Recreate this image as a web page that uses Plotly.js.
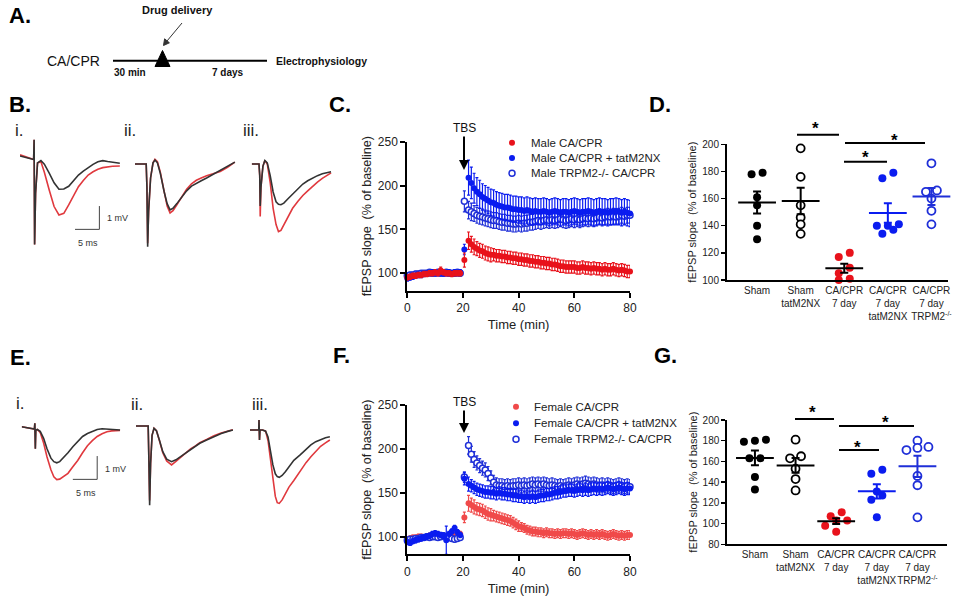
<!DOCTYPE html>
<html><head><meta charset="utf-8">
<script src="https://cdn.plot.ly/plotly-3.0.1.min.js"></script>
<style>html,body{margin:0;padding:0;background:#fff}#chart{width:970px;height:600px}</style>
</head><body><div id="chart"></div>
<script>
// ================= DATA =================
// Time-course (C: male, F: female), minutes
const timeMin = [0,1,2,3,4,5,6,7,8,9,10,11,12,13,14,15,16,17,18,19,
20.5,22,23,24,25,26,27,28,29,30,31,32,33,34,35,36,37,38,39,40,
41,42,43,44,45,46,47,48,49,50,51,52,53,54,55,56,57,58,59,60,
61,62,63,64,65,66,67,68,69,70,71,72,73,74,75,76,77,78,79,80];

const maleCA = [95,96,97,97,98,98,99,99,100,100,101,100,103,101,100,100,99,100,100,100,
115,137,133,130,128,126,125,123,122,121,121,120,120,119,119,118,118,117,117,116,
116,115,115,114,114,113,113,112,112,111,111,110,110,109,108,108,107,107,107,107,
106,106,107,106,106,105,106,105,105,104,105,104,104,105,104,103,104,103,102,102];
const maleCAErr = [3,3,3,3,3,3,3,3,3,3,3,3,4,3,3,3,3,3,3,3,
8,10,9,9,8,8,8,8,8,8,7,7,7,7,7,7,7,7,7,7,
7,7,7,7,7,7,7,7,7,7,7,7,7,7,7,7,7,7,7,7,
7,7,7,7,7,7,7,7,7,7,7,7,7,7,7,7,7,7,7,7];

const maleTat = [94,95,96,97,98,98,99,100,100,101,101,100,101,100,100,101,100,101,100,101,
127,209,203,197,193,190,187,185,183,181,180,178,177,176,175,175,174,173,173,172,
172,171,172,171,170,171,170,170,171,170,169,170,171,170,169,170,170,169,170,171,
170,169,170,170,171,170,169,170,171,170,170,169,170,170,171,170,169,170,169,168];
const maleTatErr = [3,3,3,3,3,3,3,3,3,3,3,3,3,3,3,3,3,3,3,3,
6,20,18,17,16,16,15,15,15,15,15,15,15,15,15,15,15,15,15,15,
15,15,15,15,15,15,15,15,15,15,15,15,15,15,15,15,15,15,15,15,
15,15,15,15,15,15,15,15,15,15,15,15,15,15,15,15,15,15,15,15];

const maleTRPM2 = [97,98,98,99,99,100,100,100,101,100,100,101,100,100,101,100,100,100,101,100,
182,172,170,168,166,165,164,163,162,161,160,160,159,158,158,157,157,156,156,157,
156,157,157,158,158,159,160,159,160,161,160,161,160,161,162,161,160,161,162,161,
162,161,162,163,162,163,162,163,164,163,164,165,164,165,164,165,166,165,166,166];
const maleTRPM2Err = [3,3,3,3,3,3,3,3,3,3,3,3,3,3,3,3,3,3,3,3,
12,10,10,9,9,9,9,9,9,9,9,9,9,9,9,9,9,9,9,9,
9,9,9,9,9,9,9,9,9,9,9,9,9,9,9,9,9,9,9,9,
9,9,9,9,9,9,9,9,9,9,9,9,9,9,9,9,9,9,9,9];

const femaleCA = [97,98,99,99,100,100,99,100,101,100,100,101,100,100,99,100,101,102,103,103,
122,138,136,134,132,131,130,128,126,125,124,123,122,121,120,119,118,116,114,112,
111,110,108,107,106,106,105,105,104,105,104,104,103,104,103,104,104,103,104,103,
102,103,104,103,102,103,102,103,102,103,102,101,102,103,102,101,102,101,102,102];
const femaleCAErr = [3,3,3,3,3,3,3,3,3,3,3,3,3,3,3,3,3,3,3,3,
6,9,8,8,7,7,7,7,7,7,6,6,6,6,6,6,6,6,6,6,
5,5,5,5,5,5,5,5,5,5,5,5,5,5,5,5,5,5,5,5,
5,5,5,5,5,5,5,5,5,5,5,5,5,5,5,5,5,5,5,5];

const femaleTat = [94,93,95,96,97,98,99,100,101,103,104,103,102,101,96,103,106,110,105,102,
166,160,158,156,154,153,152,151,151,150,150,149,150,149,149,148,148,147,147,146,
146,145,146,145,146,145,146,147,147,148,148,149,150,150,151,152,152,153,153,152,
153,154,153,154,153,154,155,154,155,154,155,156,155,154,155,156,155,154,155,155];
const femaleTatErr = [3,3,3,3,3,3,3,3,3,3,3,3,3,3,16,3,3,3,3,3,
7,8,7,7,7,7,7,7,7,7,7,7,7,7,7,7,7,7,7,7,
7,7,7,7,7,7,7,7,7,7,7,7,7,7,7,7,7,7,7,7,
7,7,7,7,7,7,7,7,7,7,7,7,7,7,7,7,7,7,7,7];

const femaleTRPM2 = [96,97,97,98,98,99,99,100,99,100,100,99,100,101,100,99,98,97,98,99,
168,204,194,188,184,181,178,176,172,167,162,159,158,158,157,158,157,158,158,159,
158,159,158,159,160,159,160,159,160,159,158,159,158,157,158,157,158,159,158,159,
160,159,160,161,160,159,160,159,158,159,158,159,158,157,158,159,158,157,158,157];
const femaleTRPM2Err = [3,3,3,3,3,3,3,3,3,3,3,3,3,3,3,3,3,3,3,3,
6,10,9,9,8,8,8,8,8,8,8,8,8,8,8,8,8,8,8,8,
8,8,8,8,8,8,8,8,8,8,8,8,8,8,8,8,8,8,8,8,
8,8,8,8,8,8,8,8,8,8,8,8,8,8,8,8,8,8,8,8];

// Scatter-dot plots (D: male, G: female), fEPSP slope % of baseline
const categoryLabels = ['Sham','Sham<br>tatM2NX','CA/CPR<br>7 day','CA/CPR<br>7 day<br>tatM2NX','CA/CPR<br>7 day<br>TRPM2<sup>-/-</sup>'];
const maleSham = [178,179,161,155,140,130];
const maleShamTat = [197,176,155,146,141,134];
const maleCAday7 = [117,120,109,105,101,100];
const maleTatDay7 = [179,175,141,140,140,137,134];
const maleTRPM2Day7 = [186,166,165,160,151,141];
const femaleSham = [179,181,180,163,163,145,133];
const femaleShamTat = [181,163,165,153,143,132];
const femaleCAday7 = [107,111,103,103,98,92];
const femaleTatDay7 = [148,152,131,127,123,106];
const femaleTRPM2Day7 = [171,180,174,173,146,137,106];

// Example fEPSP traces (ms, mV): black = sham/control, red = CA/CPR
const bi_t = [0,1.5,2.8,2.9,3.0,3.2,3.6,4.3,5,6,7,8,9,10,11,12,13,14,15,16,17,18,19,20.5];
const bi_black = [0.1,0.02,-0.05,0.8,-3.7,-1.5,-0.2,-0.1,-0.25,-0.64,-1.05,-1.33,-1.32,-1.2,-0.98,-0.72,-0.55,-0.39,-0.26,-0.15,-0.1,-0.14,-0.18,-0.21];
const bi_red = [0.15,0.05,-0.05,0.8,-3.7,-1.5,-0.2,-0.15,-0.6,-1.36,-2.07,-2.43,-2.36,-2.0,-1.6,-1.22,-0.95,-0.72,-0.58,-0.47,-0.4,-0.36,-0.34,-0.33];
const bii_t = [0,2.3,2.45,2.6,2.8,3.2,3.7,4.1,4.6,5.2,6.0,6.6,7.2,7.8,8.6,9.6,10.6,11.6,12.6,13.6,14.7,16,17.5,19,20.5];
const bii_black = [0,0,-1.0,-3.55,-2.0,-0.6,0.05,0.17,0.05,-0.4,-1.2,-1.7,-1.97,-1.9,-1.7,-1.4,-1.15,-0.95,-0.82,-0.72,-0.6,-0.45,-0.3,-0.12,0.08];
const bii_red = [0,0,-1.0,-3.4,-2.0,-0.6,0.05,0.2,0.1,-0.35,-1.2,-1.8,-2.1,-2.0,-1.75,-1.4,-1.08,-0.85,-0.7,-0.6,-0.5,-0.42,-0.32,-0.14,0.08];
const biii_t = [0,1.5,1.65,1.75,1.9,2.3,2.7,3.2,3.8,4.4,5.0,5.5,6.0,6.6,7.4,8.4,9.5,10.5,11.5,12.5,13.5,14.5,15.5,16.3];
const biii_black = [0,0,-0.5,-1.8,-1.0,-0.1,0.15,0.05,-0.5,-1.2,-1.62,-1.73,-1.75,-1.68,-1.5,-1.28,-1.05,-0.86,-0.72,-0.6,-0.5,-0.42,-0.36,-0.33];
const biii_red = [0,0,-0.5,-2.25,-1.0,-0.1,0.15,0.0,-0.8,-1.9,-2.6,-2.9,-2.85,-2.6,-2.25,-1.9,-1.6,-1.35,-1.15,-0.95,-0.78,-0.62,-0.48,-0.38];
const ei_t = [0,1.5,2.6,2.7,2.8,2.9,3.2,3.8,4.5,5.2,6.0,6.6,7.2,7.8,8.5,9.5,10.5,11.5,12.5,13.5,14.5,15.5,16.5,17.5,18.5,20.2];
const ei_black = [0,-0.05,-0.1,0.15,-0.95,-0.15,-0.12,-0.2,-0.5,-0.95,-1.35,-1.5,-1.55,-1.5,-1.35,-1.12,-0.86,-0.62,-0.42,-0.29,-0.2,-0.12,-0.09,-0.1,-0.12,-0.14];
const ei_red = [0,-0.05,-0.1,0.15,-0.95,-0.15,-0.12,-0.25,-0.7,-1.3,-1.85,-2.15,-2.27,-2.25,-2.15,-2.0,-1.72,-1.45,-1.12,-0.82,-0.6,-0.42,-0.3,-0.22,-0.18,-0.16];
const eii_t = [0,2.5,2.65,2.8,3.0,3.3,3.7,4.2,4.8,5.5,6.3,7.3,8.2,9.2,10.2,11.2,12.2,13.1,14.5,16,17.5,19,19.9];
const eii_black = [0,0,-1.5,-3.4,-1.6,-0.4,-0.1,-0.2,-0.6,-1.1,-1.42,-1.53,-1.45,-1.3,-1.15,-1.0,-0.86,-0.74,-0.6,-0.45,-0.32,-0.22,-0.17];
const eii_red = [0,0,-1.5,-3.2,-1.6,-0.4,-0.1,-0.2,-0.62,-1.15,-1.5,-1.67,-1.52,-1.33,-1.15,-0.98,-0.85,-0.72,-0.58,-0.42,-0.3,-0.2,-0.16];
const eiii_t = [0,1.8,1.85,1.95,2.05,2.6,3.2,3.7,4.2,4.7,5.2,5.6,6.0,6.6,7.3,8.0,9.0,10.3,11.5,12.5,13.5,14.5,15.5,16.4];
const eiii_black = [0,0,0.43,-0.43,0,0,-0.05,-0.3,-0.9,-1.5,-1.88,-2.0,-2.03,-1.95,-1.78,-1.58,-1.3,-1.07,-0.85,-0.64,-0.5,-0.4,-0.33,-0.29];
const eiii_red = [0,0,0.43,-0.43,0,0,-0.05,-0.45,-1.3,-2.2,-2.85,-3.12,-3.15,-3.0,-2.75,-2.45,-2.17,-1.75,-1.4,-1.15,-0.9,-0.7,-0.55,-0.43];

// ================= FIGURE =================
const W = 970, H = 600;
const px = x => x / W, py = y => 1 - y / H;
const FONT = '"Liberation Sans", Arial, Helvetica, sans-serif';
const RED = '#e8121b', RED_F = '#f04a4a', BLUE = '#0a1cf0', BLUE_O = '#1f2fd8', TR_RED = '#e0393e', TR_BLK = '#333333';
const data = [];
const layout = {
  width: W, height: H, margin: {l: 0, r: 0, t: 0, b: 0},
  paper_bgcolor: '#ffffff', plot_bgcolor: 'rgba(0,0,0,0)', showlegend: false,
  font: {family: FONT, color: '#222'}, shapes: [], annotations: []
};
const sfx = n => (n === 1 ? '' : String(n));

function txt(text, x, y, size, o = {}) {
  layout.annotations.push({
    text: o.bold ? '<b>' + text + '</b>' : text, x: px(x), y: py(y), xref: 'paper', yref: 'paper',
    showarrow: false, xanchor: o.anchor || 'center', yanchor: 'middle',
    font: {family: FONT, size: size, color: o.color || '#111'}
  });
}
function seg(x0, y0, x1, y1, w, c) {
  layout.shapes.push({type: 'line', xref: 'paper', yref: 'paper', x0: px(x0), y0: py(y0), x1: px(x1), y1: py(y1), line: {color: c || '#000', width: w}});
}
function tri(pts, c) {
  layout.shapes.push({type: 'path', xref: 'paper', yref: 'paper',
    path: 'M' + pts.map(p => px(p[0]) + ',' + py(p[1])).join(' L') + ' Z', fillcolor: c, line: {color: c, width: 1}});
}

// ---------- time-course panels ----------
function timeAxes(n, left, right, top, bottom) {
  layout['xaxis' + sfx(n)] = {
    domain: [px(left), px(right)], range: [0, 80], anchor: 'y' + sfx(n), automargin: false,
    showline: true, linecolor: '#000', linewidth: 2, ticks: 'outside', ticklen: 5, tickwidth: 2, tickcolor: '#000',
    tickvals: [0, 20, 40, 60, 80], tickfont: {size: 12, color: '#222'}, showgrid: false, zeroline: false,
    title: {text: 'Time (min)', font: {size: 13, color: '#222'}, standoff: 6}
  };
  layout['yaxis' + sfx(n)] = {
    domain: [py(bottom), py(top)], range: [80, 250], anchor: 'x' + sfx(n), automargin: false,
    showline: true, linecolor: '#000', linewidth: 2, ticks: 'outside', ticklen: 5, tickwidth: 2, tickcolor: '#000',
    tickvals: [100, 150, 200, 250], tickfont: {size: 12, color: '#222'}, showgrid: false, zeroline: false,
    title: {text: 'fEPSP slope  (% of baseline)', font: {size: 12.5, color: '#222'}, standoff: 3}
  };
}
function course(n, y, err, color, open, name) {
  data.push({
    type: 'scatter', mode: 'markers', name: name, x: timeMin, y: y, xaxis: 'x' + sfx(n), yaxis: 'y' + sfx(n), cliponaxis: false,
    marker: {size: 6, symbol: 'circle', color: open ? '#ffffff' : color, line: {color: color, width: open ? 1.5 : 0}},
    error_y: {type: 'data', array: err, color: color, thickness: 1.2, width: 1.5}
  });
}
timeAxes(1, 407.3, 630, 141.7, 290.7);
timeAxes(3, 407.3, 630, 405, 554.3);
course(1, maleTRPM2, maleTRPM2Err, BLUE_O, true, 'Male TRPM2-/- CA/CPR');
course(1, maleTat, maleTatErr, BLUE, false, 'Male CA/CPR + tatM2NX');
course(1, maleCA, maleCAErr, RED, false, 'Male CA/CPR');
course(3, femaleCA, femaleCAErr, RED_F, false, 'Female CA/CPR');
course(3, femaleTRPM2, femaleTRPM2Err, BLUE_O, true, 'Female TRPM2-/- CA/CPR');
course(3, femaleTat, femaleTatErr, BLUE, false, 'Female CA/CPR + tatM2NX');

function legendRows(x, text0, ys, labels, colors, opens) {
  labels.forEach((lab, i) => {
    const r = 3;
    layout.shapes.push({type: 'circle', xref: 'paper', yref: 'paper', x0: px(x - r), x1: px(x + r), y0: py(ys[i] + r), y1: py(ys[i] - r),
      fillcolor: opens[i] ? '#ffffff' : colors[i], line: {color: colors[i], width: opens[i] ? 1.5 : 0}});
    txt(lab, text0, ys[i], 11.5, {anchor: 'left', color: '#222'});
  });
}
legendRows(512, 529, [142.7, 158, 173.3], ['Male CA/CPR', 'Male CA/CPR + tatM2NX', 'Male TRPM2-/- CA/CPR'], [RED, BLUE, BLUE_O], [false, false, true]);
legendRows(516, 532, [406.7, 423.3, 439.3], ['Female CA/CPR', 'Female CA/CPR + tatM2NX', 'Female TRPM2-/- CA/CPR'], [RED_F, BLUE, BLUE_O], [false, false, true]);

function tbs(xTip, yTip, yText) {
  layout.annotations.push({text: 'TBS', x: px(xTip), y: py(yTip), xref: 'paper', yref: 'paper', showarrow: true,
    ax: 0, ay: yText - yTip, arrowhead: 2, arrowsize: 1, arrowwidth: 2, arrowcolor: '#000',
    font: {family: FONT, size: 12, color: '#111'}});
}
tbs(464, 170, 128);
tbs(464, 433, 402);

// ---------- scatter-dot panels ----------
function dotAxes(n, left, right, top, bottom, xr, yr, ytv) {
  layout['xaxis' + sfx(n)] = {
    domain: [px(left), px(right)], range: xr, anchor: 'y' + sfx(n), automargin: false,
    showline: true, linecolor: '#000', linewidth: 2, ticks: '', tickvals: [0, 1, 2, 3, 4], ticktext: categoryLabels,
    tickangle: 0, tickfont: {size: 10, color: '#222'}, showgrid: false, zeroline: false
  };
  layout['yaxis' + sfx(n)] = {
    domain: [py(bottom), py(top)], range: yr, anchor: 'x' + sfx(n), automargin: false,
    showline: true, linecolor: '#000', linewidth: 2, ticks: 'outside', ticklen: 4, tickwidth: 1.5, tickcolor: '#000',
    tickvals: ytv, tickfont: {size: 10, color: '#222'}, showgrid: false, zeroline: false,
    title: {text: 'fEPSP slope  (% of baseline)', font: {size: 11, color: '#222'}, standoff: 3}
  };
}
const mean = a => a.reduce((s, v) => s + v, 0) / a.length;
const sem = a => { const m = mean(a); return Math.sqrt(a.reduce((s, v) => s + (v - m) * (v - m), 0) / (a.length - 1)) / Math.sqrt(a.length); };
function swarm(vals, pxPerUnit, pxPerCat) {
  const order = vals.map((v, i) => i).sort((a, b) => vals[a] - vals[b]);
  const off = new Array(vals.length).fill(0);
  let row = [];
  const flush = () => { row.forEach((idx, k) => { off[idx] = (k - (row.length - 1) / 2) * 11 / pxPerCat; }); row = []; };
  order.forEach(i => {
    if (row.length && (vals[i] - vals[row[0]]) * pxPerUnit >= 6) flush();
    row.push(i);
  });
  flush();
  return off;
}
function dotGroup(n, cat, vals, color, open, meanColor, pxPerUnit, pxPerCat) {
  const off = swarm(vals, pxPerUnit, pxPerCat);
  data.push({type: 'scatter', mode: 'markers', x: vals.map((v, i) => cat + off[i]), y: vals,
    xaxis: 'x' + sfx(n), yaxis: 'y' + sfx(n), cliponaxis: false,
    marker: {size: 8, color: open ? '#ffffff' : color, line: {color: color, width: open ? 1.8 : 0}}});
  data.push({type: 'scatter', mode: 'markers', x: [cat], y: [mean(vals)], xaxis: 'x' + sfx(n), yaxis: 'y' + sfx(n), cliponaxis: false,
    marker: {symbol: 'line-ew', size: 27, color: meanColor, line: {color: meanColor, width: 2}},
    error_y: {type: 'data', array: [sem(vals)], color: meanColor, thickness: 2, width: 4}});
}
// D (male)
dotAxes(2, 727, 948, 144.3, 280, [-0.69, 4.38], [100, 200], [100, 120, 140, 160, 180, 200]);
const dU = 135.7 / 100, dC = 43.6;
dotGroup(2, 0, maleSham, '#000', false, '#000', dU, dC);
dotGroup(2, 1, maleShamTat, '#000', true, '#000', dU, dC);
dotGroup(2, 2, maleCAday7, RED, false, '#000', dU, dC);
dotGroup(2, 3, maleTatDay7, BLUE, false, BLUE, dU, dC);
dotGroup(2, 4, maleTRPM2Day7, BLUE_O, true, BLUE_O, dU, dC);
// G (female)
dotAxes(4, 727.3, 946.7, 420, 544.3, [-0.68, 4.72], [80, 200], [80, 100, 120, 140, 160, 180, 200]);
const gU = 124.3 / 120, gC = 40.6;
dotGroup(4, 0, femaleSham, '#000', false, '#000', gU, gC);
dotGroup(4, 1, femaleShamTat, '#000', true, '#000', gU, gC);
dotGroup(4, 2, femaleCAday7, RED, false, '#000', gU, gC);
dotGroup(4, 3, femaleTatDay7, BLUE, false, BLUE, gU, gC);
dotGroup(4, 4, femaleTRPM2Day7, BLUE_O, true, BLUE_O, gU, gC);

function sig(x0, x1, y, sx, sy) {
  seg(x0, y, x1, y, 2, '#000');
  txt('*', sx, sy + 4, 17, {bold: true, color: '#000'});
}
sig(797, 839, 134.7, 815, 124); sig(845, 925, 143, 894, 136); sig(844, 887, 161.7, 865, 154);
sig(795, 834, 419, 812, 408); sig(839, 914, 426, 885, 418); sig(839, 879, 450, 857, 443);

// ---------- example traces (B, E) ----------
const PX_MS = 4.87, PX_MV = 23.3, XR = [0, 22], YR = [-4, 1.2];
function traceAxes(n, x0, base) {
  layout['xaxis' + n] = {domain: [px(x0), px(x0 + (XR[1] - XR[0]) * PX_MS)], range: XR, visible: false, anchor: 'y' + n, fixedrange: true};
  layout['yaxis' + n] = {domain: [py(base - YR[0] * PX_MV), py(base - YR[1] * PX_MV)], range: YR, visible: false, anchor: 'x' + n, fixedrange: true};
}
function tracePair(n, t, black, red) {
  data.push({type: 'scatter', mode: 'lines', x: t, y: red, xaxis: 'x' + n, yaxis: 'y' + n, line: {color: TR_RED, width: 1.6}, cliponaxis: false});
  data.push({type: 'scatter', mode: 'lines', x: t, y: black, xaxis: 'x' + n, yaxis: 'y' + n, line: {color: TR_BLK, width: 1.6}, cliponaxis: false});
}
traceAxes(5, 20, 158.3); tracePair(5, bi_t, bi_black, bi_red);
traceAxes(6, 135, 164); tracePair(6, bii_t, bii_black, bii_red);
traceAxes(7, 251.7, 164); tracePair(7, biii_t, biii_black, biii_red);
traceAxes(8, 21.7, 426.7); tracePair(8, ei_t, ei_black, ei_red);
traceAxes(9, 136, 426); tracePair(9, eii_t, eii_black, eii_red);
traceAxes(10, 250, 430); tracePair(10, eiii_t, eiii_black, eiii_red);

function scaleBar(n, tEnd, vBot, lblMvX, lblMvY, lblMsX, lblMsY) {
  const ln = {color: '#444', width: 1};
  layout.shapes.push({type: 'line', xref: 'x' + n, yref: 'y' + n, x0: tEnd - 5, x1: tEnd, y0: vBot, y1: vBot, line: ln});
  layout.shapes.push({type: 'line', xref: 'x' + n, yref: 'y' + n, x0: tEnd, x1: tEnd, y0: vBot, y1: vBot + 1, line: ln});
  txt('1 mV', lblMvX, lblMvY, 9, {color: '#333'});
  txt('5 ms', lblMsX, lblMsY, 9, {color: '#333'});
}
scaleBar(5, 16.3, -3.05, 117, 218, 88, 243);
scaleBar(8, 15.5, -2.26, 115, 469, 86, 493);

// ---------- panel A timeline ----------
seg(113, 60.7, 267, 60.7, 2, '#000');
tri([[155, 66.5], [162.5, 50.5], [170, 66.5]], '#000');
seg(182, 23, 167, 41, 1, '#333');
tri([[163.5, 45.5], [164.6, 38.8], [169.4, 42.8]], '#333');
txt('Drug delivery', 177, 10, 11, {bold: true});
txt('CA/CPR', 73, 61, 14);
txt('30 min', 130, 72, 10, {bold: true});
txt('7 days', 228, 72, 10, {bold: true});
txt('Electrophysiology', 321, 61, 10.5, {bold: true});

// ---------- panel letters & roman numerals ----------
[['A.', 20, 15], ['B.', 20, 104], ['C.', 340, 104], ['D.', 660, 104], ['E.', 20, 357], ['F.', 341, 355], ['G.', 665, 355]]
  .forEach(a => txt(a[0], a[1], a[2], 22, {bold: true, color: '#000'}));
[['i.', 19, 130], ['ii.', 130, 131], ['iii.', 251, 131], ['i.', 20, 403], ['ii.', 137, 404], ['iii.', 260, 404]]
  .forEach(a => txt(a[0], a[1], a[2], 17, {color: '#222'}));

Plotly.newPlot('chart', data, layout, {staticPlot: true, displayModeBar: false});
</script>
</body></html>
